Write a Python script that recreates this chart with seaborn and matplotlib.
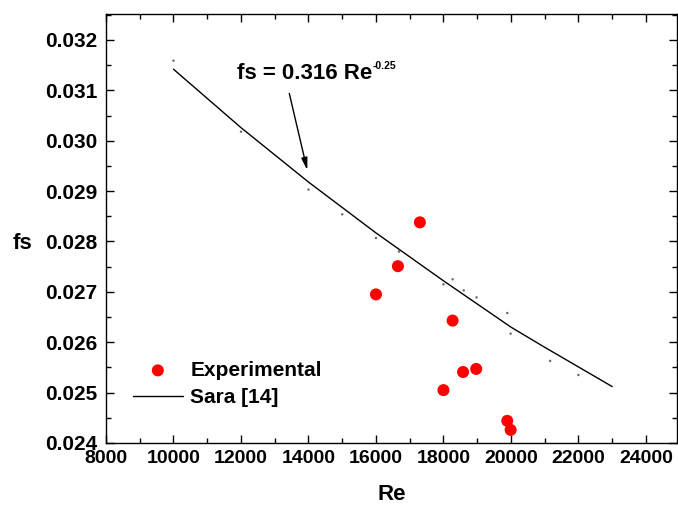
import matplotlib
matplotlib.use("Agg")
import matplotlib.pyplot as plt
import seaborn as sns
import numpy as np
import pandas as pd
from matplotlib.ticker import MultipleLocator, FormatStrFormatter

# ---------------- data ----------------
exp_re = [16000, 16650, 17300, 18000, 18270, 18580, 18970, 19890, 19990]
exp_fs = [0.02695, 0.02751, 0.02838, 0.02505, 0.02643, 0.02541, 0.02547, 0.02444, 0.02426]

sara_re = [10000, 12000, 14000, 16000, 18000, 20000, 21000, 22000, 23000]
sara_fs = [0.03142, 0.03026, 0.02918, 0.02817, 0.02722, 0.02630, 0.02590, 0.02551, 0.02512]

# faint residual dots seen near the curve
dot_re = [10000, 12000, 14000, 15000, 16000, 16680, 18000, 18270, 18600, 18980, 19890, 19990, 21160, 22000]
dot_fs = [0.03159, 0.03018, 0.02903, 0.02854, 0.02807, 0.02780, 0.02715, 0.02725, 0.02703, 0.02689,
          0.02658, 0.02617, 0.02563, 0.02535]

x_ticks = [8000, 10000, 12000, 14000, 16000, 18000, 20000, 22000, 24000]
y_ticks = [0.024, 0.025, 0.026, 0.027, 0.028, 0.029, 0.030, 0.031, 0.032]

annot_text = "fs = 0.316 Re"
annot_sup = "-0.25"

# ---------------- style ----------------
sns.set_theme(style="ticks")
plt.rcParams['font.family'] = ['Liberation Sans', 'DejaVu Sans']
plt.rcParams['font.weight'] = 'bold'
plt.rcParams['axes.labelweight'] = 'bold'
plt.rcParams['text.color'] = 'black'
plt.rcParams['axes.labelcolor'] = 'black'
plt.rcParams['xtick.color'] = 'black'
plt.rcParams['ytick.color'] = 'black'

W, H = 678, 509
fig = plt.figure(figsize=(W / 100, H / 100), dpi=100)
ax = fig.add_axes([106 / W, 1 - 443 / H, 571 / W, 429 / H])

df_exp = pd.DataFrame({"Re": exp_re, "fs": exp_fs})
df_sara = pd.DataFrame({"Re": sara_re, "fs": sara_fs})
df_dot = pd.DataFrame({"Re": dot_re, "fs": dot_fs})

sns.scatterplot(data=df_dot, x="Re", y="fs", ax=ax, s=3, color="#666666",
                edgecolor="none", linewidth=0, zorder=1, legend=False)
sns.scatterplot(data=df_exp, x="Re", y="fs", ax=ax, s=75, color="#ff0000",
                edgecolor="none", linewidth=0, label="Experimental", zorder=3)
sns.lineplot(data=df_sara, x="Re", y="fs", ax=ax, color="black", linewidth=1.0,
             label="Sara [14]", zorder=2, estimator=None, sort=False)

ax.set_xlim(8000, 24920)
ax.set_ylim(0.024, 0.032516)
ax.set_xticks(x_ticks)
ax.set_yticks(y_ticks)
ax.xaxis.set_minor_locator(MultipleLocator(1000))
ax.yaxis.set_minor_locator(MultipleLocator(0.0005))
ax.yaxis.set_major_formatter(FormatStrFormatter("%.3f"))

for s in ax.spines.values():
    s.set_visible(True)
    s.set_color("black")
    s.set_linewidth(1.0)

ax.tick_params(which="both", direction="in", top=True, right=True, color="black", width=1.0)
ax.tick_params(which="major", length=6)
ax.tick_params(which="minor", length=3.5)
ax.tick_params(axis="x", which="major", labelsize=14, pad=5, labelcolor="black")
ax.tick_params(axis="y", which="major", labelsize=15, pad=6, labelcolor="black")
for lab in ax.get_xticklabels() + ax.get_yticklabels():
    lab.set_fontweight("bold")

ax.set_xlabel("Re", fontsize=16, fontweight="bold", color="black", va="center")
ax.set_ylabel("fs", fontsize=16, fontweight="bold", color="black", rotation=0, va="center", ha="center")
ax.xaxis.set_label_coords(0.5, -0.119)
ax.yaxis.set_label_coords(-0.147, 0.466)

# annotation
t = ax.text(11880, 0.03122, annot_text, fontsize=16, fontweight="bold", va="baseline", ha="left", color="black")
ax.annotate(annot_sup, xy=(1, 1), xycoords=t, xytext=(0.5, 1.5), textcoords="offset points",
            fontsize=7.5, fontweight="bold", ha="left", va="top", color="black")
ax.annotate("", xy=(13964, 0.029417), xytext=(13431, 0.030939),
            arrowprops=dict(arrowstyle="-|>,head_length=0.6,head_width=0.15", color="black", lw=1.0,
                            shrinkA=0, shrinkB=0))

leg = ax.legend(loc="center left", bbox_to_anchor=(0.047, 0.1375), frameon=False,
                prop={"size": 15, "weight": "bold"}, handlelength=2.4, handletextpad=0.35,
                labelspacing=0.4, borderpad=0, borderaxespad=0)
for txt in leg.get_texts():
    txt.set_color("black")

fig.savefig("out.png", dpi=100)
